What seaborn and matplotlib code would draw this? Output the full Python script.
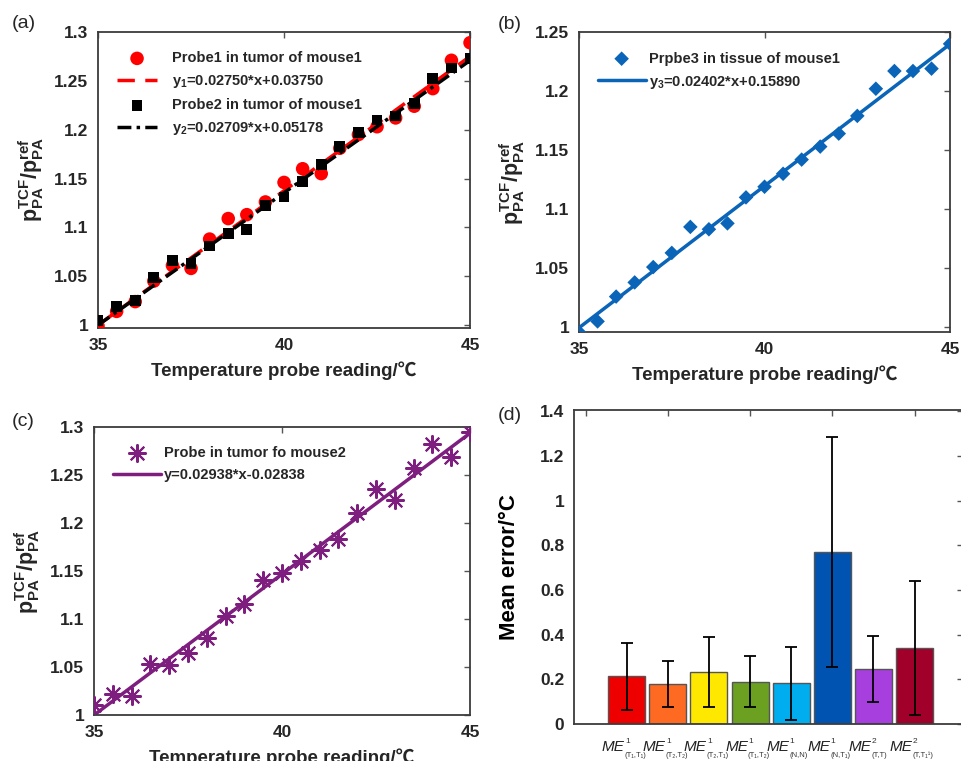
import matplotlib
matplotlib.use("Agg")
import matplotlib.pyplot as plt
from matplotlib.ticker import FuncFormatter
from matplotlib.transforms import blended_transform_factory
import seaborn as sns
import numpy as np
import pandas as pd

# ---------------- data ----------------
temps = [35, 35.5, 36, 36.5, 37, 37.5, 38, 38.5, 39, 39.5, 40,
         40.5, 41, 41.5, 42, 42.5, 43, 43.5, 44, 44.5, 45]

probe1_m1 = [0.999, 1.014, 1.024, 1.045, 1.061, 1.058, 1.088, 1.109, 1.113, 1.126, 1.146,
             1.160, 1.155, 1.181, 1.195, 1.203, 1.212, 1.224, 1.242, 1.271, 1.289]
probe2_m1 = [1.005, 1.019, 1.025, 1.049, 1.066, 1.063, 1.081, 1.094, 1.098, 1.122, 1.131,
             1.147, 1.164, 1.183, 1.197, 1.210, 1.214, 1.227, 1.252, 1.263, 1.273]
probe3_m1 = [0.996, 1.005, 1.026, 1.038, 1.051, 1.063, 1.085, 1.083, 1.088, 1.110, 1.119,
             1.130, 1.142, 1.153, 1.164, 1.179, 1.202, 1.217, 1.217, 1.219, 1.240]
probe_m2 = [1.010, 1.022, 1.020, 1.053, 1.052, 1.065, 1.080, 1.103, 1.116, 1.141, 1.148,
            1.160, 1.172, 1.183, 1.210, 1.235, 1.224, 1.257, 1.282, 1.269, 1.295]

fit1 = (0.02750, 0.03750)
fit2 = (0.02709, 0.05178)
fit3 = (0.02402, 0.15890)
fit4 = (0.02938, -0.02838)
fit_x = [35, 45]

bar_sup = ['1', '1', '1', '1', '1', '1', '2', '2']
bar_sub = ['(T₁,T₁)', '(T₂,T₂)', '(T₂,T₁)', '(T₁,T₂)', '(N,N)', '(N,T₁)', '(T,T)', '(T,T₁¹)']
bar_pos = [1, 2, 3, 4, 5, 6, 7, 8]
bar_mean = [0.213, 0.178, 0.232, 0.189, 0.183, 0.770, 0.246, 0.340]
bar_err = [0.150, 0.102, 0.158, 0.115, 0.163, 0.515, 0.149, 0.298]
bar_colors = ['#EE0000', '#FF6A22', '#FFE800', '#6CA020', '#00AEEF',
              '#0053B0', '#A63FDD', '#A0002A']

# ---------------- style ----------------
sns.set_style('white')
plt.rcParams['font.family'] = ['Liberation Sans', 'Noto Sans CJK SC', 'DejaVu Sans']
plt.rcParams['mathtext.fontset'] = 'custom'
plt.rcParams['mathtext.rm'] = 'Liberation Sans'
plt.rcParams['mathtext.it'] = 'Liberation Sans:italic'
plt.rcParams['mathtext.bf'] = 'Liberation Sans:bold'

TXT = '#262626'
SPINE = '#3c3c3c'

fig = plt.figure(figsize=(9.62, 7.61), dpi=100)

ax_a = fig.add_axes([0.1019, 0.5690, 0.3867, 0.3890])
ax_b = fig.add_axes([0.6019, 0.5637, 0.3857, 0.3942])
ax_c = fig.add_axes([0.0977, 0.0604, 0.3909, 0.3784])
ax_d = fig.add_axes([0.5967, 0.0486, 0.4044, 0.4126])

fmt = FuncFormatter(lambda v, p: '%g' % round(v, 4))
ylab = r'$\mathbf{p_{PA}^{TCF}/p_{PA}^{ref}}$'
xlab = 'Temperature probe reading/℃'


def style_axes(ax):
    for s in ax.spines.values():
        s.set_color(SPINE)
        s.set_linewidth(1.3)
    ax.tick_params(direction='in', top=True, right=True, length=4, width=1,
                   color='#555555', labelsize=12.5, labelcolor=TXT, pad=7)
    for lab in ax.get_xticklabels() + ax.get_yticklabels():
        lab.set_fontweight('bold')


def scatter_panel(ax, ylim, yticks):
    ax.set_xlim(35, 45)
    ax.set_ylim(*ylim)
    ax.set_xticks([35, 40, 45])
    ax.set_yticks(yticks)
    ax.yaxis.set_major_formatter(fmt)
    ax.set_xlabel(xlab, fontsize=13.5, fontweight='bold', color=TXT, labelpad=6,
                  family=['Liberation Sans', 'Noto Sans CJK SC'])
    ax.set_ylabel(ylab, fontsize=15.5, color=TXT, labelpad=6)
    style_axes(ax)


def fit_line(fit):
    return [fit[0] * x + fit[1] for x in fit_x]


leg_kw = dict(loc='upper left', frameon=False, prop={'weight': 'bold', 'size': 10.5},
              borderpad=0, borderaxespad=0, labelspacing=0.55, labelcolor=TXT)

# ---------- (a) ----------
sns.scatterplot(x=temps, y=probe1_m1, ax=ax_a, color='#FF0000', marker='o', s=95,
                edgecolor='none', label='Probe1 in tumor of mouse1', zorder=3)
sns.lineplot(x=fit_x, y=fit_line(fit1), ax=ax_a, color='#FF0000', lw=2.5,
             linestyle=(0, (5, 3)), label=r'$\mathbf{y_1}$=0.02750*x+0.03750', zorder=2)
sns.scatterplot(x=temps, y=probe2_m1, ax=ax_a, color='black', marker='s', s=60,
                edgecolor='none', label='Probe2 in tumor of mouse1', zorder=4)
sns.lineplot(x=fit_x, y=fit_line(fit2), ax=ax_a, color='black', lw=2.5,
             linestyle=(0, (4, 1.5, 1, 1.5)), label=r'$\mathbf{y_2}$=0.02709*x+0.05178', zorder=5)
scatter_panel(ax_a, (0.997, 1.3), [1, 1.05, 1.1, 1.15, 1.2, 1.25, 1.3])
h, l = ax_a.get_legend_handles_labels()
ax_a.legend(h, l, bbox_to_anchor=(0.05, 0.935), handlelength=2.8, handletextpad=1.0, **leg_kw)

# ---------- (b) ----------
sns.scatterplot(x=temps, y=probe3_m1, ax=ax_b, color='#0A64B8', marker='D', s=55,
                edgecolor='none', label='Prpbe3 in tissue of mouse1', zorder=3)
sns.lineplot(x=fit_x, y=fit_line(fit3), ax=ax_b, color='#0A64B8', lw=2.5,
             label=r'$\mathbf{y_3}$=0.02402*x+0.15890', zorder=2)
scatter_panel(ax_b, (0.996, 1.25), [1, 1.05, 1.1, 1.15, 1.2, 1.25])
h, l = ax_b.get_legend_handles_labels()
ax_b.legend(h, l, bbox_to_anchor=(0.05, 0.935), handlelength=3.3, handletextpad=0.2, **leg_kw)

# ---------- (c) ----------
sns.scatterplot(x=temps, y=probe_m2, ax=ax_c, color='#7E1F80', marker=(8, 2, 0), s=150,
                linewidth=1.5, label='Probe in tumor fo mouse2', zorder=3)
sns.lineplot(x=fit_x, y=fit_line(fit4), ax=ax_c, color='#7E1F80', lw=2.5,
             label='y=0.02938*x-0.02838', zorder=2)
scatter_panel(ax_c, (1.0, 1.3), [1, 1.05, 1.1, 1.15, 1.2, 1.25, 1.3])
h, l = ax_c.get_legend_handles_labels()
ax_c.legend(h, l, bbox_to_anchor=(0.05, 0.935), handlelength=3.3, handletextpad=0.2, **leg_kw)

# ---------- (d) ----------
df = pd.DataFrame({'pos': bar_pos, 'mean': bar_mean, 'sub': bar_sub})
sns.barplot(data=df, x='pos', y='mean', hue='sub', palette=bar_colors, ax=ax_d,
            native_scale=True, width=0.9, edgecolor='#555555', linewidth=1.0,
            legend=False, dodge=False, saturation=1)
ax_d.errorbar(bar_pos, bar_mean, yerr=bar_err, fmt='none', ecolor='black',
              elinewidth=1.3, capsize=4.5, capthick=1.3, zorder=5)
ax_d.set_xlim(-0.28, 9.18)
ax_d.set_ylim(0, 1.405)
ax_d.set_xticks([0, 2, 4, 6, 8])
ax_d.set_xticklabels([])
ax_d.set_yticks([0, 0.2, 0.4, 0.6, 0.8, 1.0, 1.2, 1.4])
ax_d.yaxis.set_major_formatter(fmt)
ax_d.set_xlabel('')
ax_d.set_ylabel('Mean error/°C', fontsize=16, fontweight='bold', color='black', labelpad=14)
style_axes(ax_d)

# category labels ME^sup_sub below each bar
trans = blended_transform_factory(ax_d.transData, ax_d.transAxes)
for p, sup, sub in zip(bar_pos, bar_sup, bar_sub):
    ax_d.text(p - 0.05, -0.085, 'ME', transform=trans, ha='right', va='baseline',
              fontsize=11, style='italic', color='#222222', clip_on=False)
    ax_d.text(p - 0.04, -0.060, sup, transform=trans, ha='left', va='baseline',
              fontsize=6, color='#333333', clip_on=False)
    ax_d.text(p - 0.05, -0.105, sub, transform=trans, ha='left', va='baseline',
              fontsize=5.5, color='#333333', clip_on=False,
              family=['Liberation Sans', 'DejaVu Sans'])

# ---------- panel letters ----------
for txt, x, y in [('(a)', 12, 28), ('(b)', 498, 29), ('(c)', 12, 426), ('(d)', 498, 420)]:
    fig.text(x / 962, 1 - y / 761, txt, fontsize=14, color=TXT, ha='left', va='baseline')

fig.savefig('out.png', dpi=100)
